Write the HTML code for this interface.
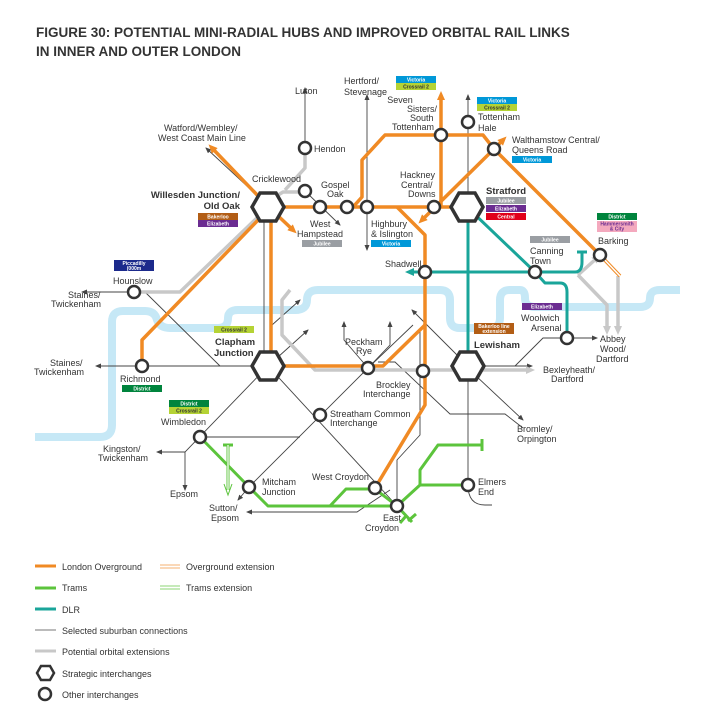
<!DOCTYPE html><html><head><meta charset="utf-8"><style>
body{margin:0;background:#fff}
svg{display:block;font-family:"Liberation Sans",sans-serif}
.t{font-size:9px;fill:#333}
.b{font-size:9.5px;font-weight:bold;fill:#333}
.bd{font-size:5px;fill:#fff;font-weight:bold;text-anchor:middle}
.o{stroke:#f08a24;stroke-width:3.5;fill:none;stroke-linejoin:round}
.g{stroke:#c8c8c8;stroke-width:3.5;fill:none;stroke-linejoin:round}
.tl{stroke:#1aa59a;stroke-width:3;fill:none;stroke-linejoin:round}
.gr{stroke:#5cc43c;stroke-width:3;fill:none;stroke-linejoin:round}
.k{stroke:#444;stroke-width:0.9;fill:none}
.r{stroke:#c6e8f6;stroke-width:8;fill:none;stroke-linejoin:round}
.c{fill:#fff;stroke:#333;stroke-width:2.5}
.h{fill:#fff;stroke:#333;stroke-width:3.5}
</style></head><body>
<svg width="715" height="721" viewBox="0 0 715 721">
<defs>
<marker id="ak" markerUnits="userSpaceOnUse" markerWidth="6" markerHeight="5" refX="5" refY="2.5" orient="auto"><path d="M0,0L6,2.5L0,5z" fill="#444"/></marker>
<marker id="ao" markerUnits="userSpaceOnUse" markerWidth="9" markerHeight="8" refX="4" refY="4" orient="auto"><path d="M0,0L9,4L0,8z" fill="#f08a24"/></marker>
<marker id="ag" markerUnits="userSpaceOnUse" markerWidth="9" markerHeight="8" refX="4" refY="4" orient="auto"><path d="M0,0L9,4L0,8z" fill="#c8c8c8"/></marker>
<marker id="at" markerUnits="userSpaceOnUse" markerWidth="9" markerHeight="8" refX="4" refY="4" orient="auto"><path d="M0,0L9,4L0,8z" fill="#1aa59a"/></marker>
</defs>
<text x="36" y="37" style="font-size:13.5px;font-weight:bold;fill:#333">FIGURE 30: POTENTIAL MINI-RADIAL HUBS AND IMPROVED ORBITAL RAIL LINKS</text>
<text x="36" y="56" style="font-size:13.5px;font-weight:bold;fill:#333">IN INNER AND OUTER LONDON</text>

<path class="r" d="M35,437H100Q112,437 112,425V322Q112,311 123,311H145Q155,311 157,320Q160,328 170,328H218Q228,328 228,318Q228,310 238,310H295Q307,310 307,300Q307,290 318,290H440Q450,290 450,300V318Q450,328 460,328H490Q500,328 500,318V300Q500,290 510,290H520Q525,290 525,298Q525,307 535,307H640Q650,307 650,298Q650,290 660,290H680"/>

<g class="k">
<path d="M305,148V88" marker-end="url(#ak)"/>
<path d="M367,207V95" marker-end="url(#ak)"/>
<path d="M367,207V250" marker-end="url(#ak)"/>
<path d="M468,207V95" marker-end="url(#ak)"/>
<path d="M305,191L340,225" marker-end="url(#ak)"/>
<path d="M262,200L206,148" marker-end="url(#ak)"/>
<path d="M264,207V366"/>
<path d="M134,292H82" marker-end="url(#ak)"/>
<path d="M134,292H145L220,366"/>
<path d="M268,366H96" marker-end="url(#ak)"/>
<path d="M268,366L308,330" marker-end="url(#ak)"/>
<path d="M272,345V325L300,300" marker-end="url(#ak)"/>
<path d="M268,366L185,452H157" marker-end="url(#ak)"/>
<path d="M185,452V490" marker-end="url(#ak)"/>
<path d="M268,366L397,506"/>
<path d="M200,437H300"/>
<path d="M249,487L368,368L413,325"/>
<path d="M249,487L238,500" marker-end="url(#ak)"/>
<path d="M390,490L357,512H247" marker-end="url(#ak)"/>
<path d="M368,368L344,340V322" marker-end="url(#ak)"/>
<path d="M368,368L390,345V322" marker-end="url(#ak)"/>
<path d="M468,366L412,310" marker-end="url(#ak)"/>
<path d="M468,366H532" marker-end="url(#ak)"/>
<path d="M515,366L543,338H567H597" marker-end="url(#ak)"/>
<path d="M475,375L523,420" marker-end="url(#ak)"/>
<path d="M378,362H395L450,414H505L523,428"/>
<path d="M420,330V435L397,460V506"/>
<path d="M468,366V485Q468,505 485,505H492"/>
</g>

<g class="g">
<path d="M305,148V168L285,190"/>
<path d="M270,200L283,192H305"/>
<path d="M260,215L180,292H134"/>
<path d="M268,366H300M290,290L282,300V335L315,370H530" marker-end="url(#ag)"/>
<path d="M578,275L597,258" marker-end="url(#ag)"/>
<path d="M578,275L607,305V330" marker-end="url(#ag)"/>
<path d="M618,276V330" marker-end="url(#ag)"/>
</g>

<g class="o">
<path d="M262,200L212,148" marker-end="url(#ao)"/>
<path d="M275,213L293,230" marker-end="url(#ao)"/>
<path d="M268,207H467"/>
<path d="M347,207H353L362,197V160L385,135H483L494,149L600,255"/>
<path d="M441,135V96" marker-end="url(#ao)"/>
<path d="M441,135V207"/>
<path d="M494,149L503,140" marker-end="url(#ao)"/>
<path d="M494,149L422,220" marker-end="url(#ao)"/>
<path d="M397,207L425,235V405L375,488"/>
<path d="M271,207V366H368H383L425,325"/>
<path d="M262,216L142,340V366"/>
</g>
<path d="M600,255L620,276" stroke="#f08a24" stroke-width="3.5" fill="none"/>
<path d="M600,255L620,276" stroke="#fff" stroke-width="1.5" fill="none"/>

<g class="tl">
<path d="M468,207V360"/>
<path d="M467,207L535,272"/>
<path d="M565,272H575Q582,272 582,262V252M577,252H587"/>
<path d="M575,272H410" marker-end="url(#at)"/>
<path d="M535,272L545,283H560Q567,283 567,292V338"/>
</g>

<g class="gr">
<path d="M200,437L249,487L268,506H397L412,522M406,516L400,523"/>
<path d="M330,506L346,489H375L397,506"/>
<path d="M397,506L420,485V470L438,445H482M482,439V451"/>
<path d="M420,485H468"/>
<path d="M408,521L416,514"/>
</g>
<path d="M223,445H233M228,445V490" stroke="#5cc43c" stroke-width="3" fill="none"/>
<path d="M228,445V490" stroke="#fff" stroke-width="1.2"/>
<path d="M224,484L228,495L232,484" stroke="#5cc43c" stroke-width="1" fill="none"/>

<g>
<circle class="c" cx="305" cy="148" r="6"/>
<circle class="c" cx="305" cy="191" r="6"/>
<circle class="c" cx="320" cy="207" r="6"/>
<circle class="c" cx="347" cy="207" r="6"/>
<circle class="c" cx="367" cy="207" r="6"/>
<circle class="c" cx="434" cy="207" r="6"/>
<circle class="c" cx="441" cy="135" r="6"/>
<circle class="c" cx="468" cy="122" r="6"/>
<circle class="c" cx="494" cy="149" r="6"/>
<circle class="c" cx="600" cy="255" r="6"/>
<circle class="c" cx="535" cy="272" r="6"/>
<circle class="c" cx="425" cy="272" r="6"/>
<circle class="c" cx="567" cy="338" r="6"/>
<circle class="c" cx="134" cy="292" r="6"/>
<circle class="c" cx="142" cy="366" r="6"/>
<circle class="c" cx="368" cy="368" r="6"/>
<circle class="c" cx="423" cy="371" r="6"/>
<circle class="c" cx="320" cy="415" r="6"/>
<circle class="c" cx="200" cy="437" r="6"/>
<circle class="c" cx="249" cy="487" r="6"/>
<circle class="c" cx="375" cy="488" r="6"/>
<circle class="c" cx="397" cy="506" r="6"/>
<circle class="c" cx="468" cy="485" r="6"/>
<path class="h" d="M252,207L260,193H276L284,207L276,221H260Z"/>
<path class="h" d="M252,366L260,352H276L284,366L276,380H260Z"/>
<path class="h" d="M451,207L459,193H475L483,207L475,221H459Z"/>
<path class="h" d="M452,366L460,352H476L484,366L476,380H460Z"/>
</g>

<g class="t">
<text x="295" y="94">Luton</text>
<text x="344" y="84">Hertford/</text><text x="344" y="95">Stevenage</text>
<text x="400" y="103" text-anchor="middle">Seven</text><text x="407" y="112">Sisters/</text><text x="410" y="121">South</text><text x="392" y="130">Tottenham</text>
<text x="478" y="120">Tottenham</text><text x="478" y="131">Hale</text>
<text x="512" y="143">Walthamstow Central/</text><text x="512" y="153">Queens Road</text>
<text x="164" y="131">Watford/Wembley/</text><text x="158" y="141">West Coast Main Line</text>
<text x="314" y="152">Hendon</text>
<text x="252" y="182">Cricklewood</text>
<text x="321" y="188">Gospel</text><text x="327" y="197">Oak</text>
<text x="310" y="227">West</text><text x="297" y="237">Hampstead</text>
<text x="400" y="178">Hackney</text><text x="401" y="188">Central/</text><text x="408" y="197">Downs</text>
<text x="371" y="227">Highbury</text><text x="371" y="237">&amp; Islington</text>
<text x="385" y="267">Shadwell</text>
<text x="530" y="254">Canning</text><text x="530" y="264">Town</text>
<text x="598" y="244">Barking</text>
<text x="521" y="321">Woolwich</text><text x="531" y="331">Arsenal</text>
<text x="600" y="342">Abbey</text><text x="600" y="352">Wood/</text><text x="596" y="362">Dartford</text>
<text x="543" y="373">Bexleyheath/</text><text x="551" y="382">Dartford</text>
<text x="517" y="432">Bromley/</text><text x="517" y="442">Orpington</text>
<text x="345" y="345">Peckham</text><text x="356" y="354">Rye</text>
<text x="376" y="388">Brockley</text><text x="363" y="397">Interchange</text>
<text x="330" y="417">Streatham Common</text><text x="330" y="426">Interchange</text>
<text x="312" y="480">West Croydon</text>
<text x="383" y="521">East</text><text x="365" y="531">Croydon</text>
<text x="478" y="485">Elmers</text><text x="478" y="495">End</text>
<text x="262" y="485">Mitcham</text><text x="262" y="495">Junction</text>
<text x="209" y="511">Sutton/</text><text x="211" y="521">Epsom</text>
<text x="170" y="497">Epsom</text>
<text x="103" y="452">Kingston/</text><text x="98" y="461">Twickenham</text>
<text x="161" y="425">Wimbledon</text>
<text x="120" y="382">Richmond</text>
<text x="50" y="366">Staines/</text><text x="34" y="375">Twickenham</text>
<text x="68" y="298">Staines/</text><text x="51" y="307">Twickenham</text>
<text x="113" y="284">Hounslow</text>
</g>
<g class="b">
<text x="240" y="198" text-anchor="end">Willesden Junction/</text>
<text x="240" y="209" text-anchor="end">Old Oak</text>
<text x="215" y="345">Clapham</text><text x="214" y="356">Junction</text>
<text x="486" y="194">Stratford</text>
<text x="474" y="348">Lewisham</text>
</g>

<g>
<rect x="198" y="213" width="40" height="7" fill="#b25d15"/><text class="bd" x="218" y="218.5">Bakerloo</text>
<rect x="198" y="220" width="40" height="7" fill="#6b2c91"/><text class="bd" x="218" y="225.5">Elizabeth</text>
<rect x="302" y="240" width="40" height="7" fill="#9a9ea3"/><text class="bd" x="322" y="245.5">Jubilee</text>
<rect x="371" y="240" width="40" height="7" fill="#0098d8"/><text class="bd" x="391" y="245.5">Victoria</text>
<rect x="396" y="76" width="40" height="7" fill="#0098d8"/><text class="bd" x="416" y="81.5">Victoria</text>
<rect x="396" y="83" width="40" height="7" fill="#b5d335"/><text class="bd" x="416" y="88.5" style="fill:#333">Crossrail 2</text>
<rect x="477" y="97" width="40" height="7" fill="#0098d8"/><text class="bd" x="497" y="102.5">Victoria</text>
<rect x="477" y="104" width="40" height="7" fill="#b5d335"/><text class="bd" x="497" y="109.5" style="fill:#333">Crossrail 2</text>
<rect x="512" y="156" width="40" height="7" fill="#0098d8"/><text class="bd" x="532" y="161.5">Victoria</text>
<rect x="486" y="197" width="40" height="7" fill="#9a9ea3"/><text class="bd" x="506" y="202.5">Jubilee</text>
<rect x="486" y="205" width="40" height="7" fill="#6b2c91"/><text class="bd" x="506" y="210.5">Elizabeth</text>
<rect x="486" y="213" width="40" height="7" fill="#e1001a"/><text class="bd" x="506" y="218.5">Central</text>
<rect x="530" y="236" width="40" height="7" fill="#9a9ea3"/><text class="bd" x="550" y="241.5">Jubilee</text>
<rect x="597" y="213" width="40" height="7" fill="#00843d"/><text class="bd" x="617" y="218.5">District</text>
<rect x="597" y="221" width="40" height="11" fill="#f4a9be"/><text class="bd" x="617" y="225.5" style="fill:#6b2c91">Hammersmith</text><text class="bd" x="617" y="230.5" style="fill:#6b2c91">&amp; City</text>
<rect x="522" y="303" width="40" height="7" fill="#6b2c91"/><text class="bd" x="542" y="308.5">Elizabeth</text>
<rect x="474" y="323" width="40" height="11" fill="#b25d15"/><text class="bd" x="494" y="328">Bakerloo line</text><text class="bd" x="494" y="333">extension</text>
<rect x="114" y="260" width="40" height="11" fill="#1c2a8c"/><text class="bd" x="134" y="265">Piccadilly</text><text class="bd" x="134" y="270">(000m</text>
<rect x="214" y="326" width="40" height="7" fill="#b5d335"/><text class="bd" x="234" y="331.5" style="fill:#333">Crossrail 2</text>
<rect x="122" y="385" width="40" height="7" fill="#00843d"/><text class="bd" x="142" y="390.5">District</text>
<rect x="169" y="400" width="40" height="7" fill="#00843d"/><text class="bd" x="189" y="405.5">District</text>
<rect x="169" y="407" width="40" height="7" fill="#b5d335"/><text class="bd" x="189" y="412.5" style="fill:#333">Crossrail 2</text>
</g>

<g class="t">
<path d="M35,566H56" stroke="#f08a24" stroke-width="3"/><text x="62" y="570">London Overground</text>
<path d="M160,565H180M160,568H180" stroke="#f5b070" stroke-width="1"/><text x="186" y="570">Overground extension</text>
<path d="M35,588H56" stroke="#5cc43c" stroke-width="3"/><text x="62" y="591">Trams</text>
<path d="M160,586H180M160,589H180" stroke="#8ed676" stroke-width="1"/><text x="186" y="591">Trams extension</text>
<path d="M35,609H56" stroke="#1aa59a" stroke-width="3"/><text x="62" y="613">DLR</text>
<path d="M35,630H56" stroke="#777" stroke-width="1"/><text x="62" y="634">Selected suburban connections</text>
<path d="M35,651H56" stroke="#c8c8c8" stroke-width="3"/><text x="62" y="655">Potential orbital extensions</text>
<path class="h" d="M37,673L41,666H50L54,673L50,680H41Z" style="stroke-width:2.5"/><text x="62" y="677">Strategic interchanges</text>
<circle class="c" cx="45" cy="694" r="6"/><text x="62" y="698">Other interchanges</text>
</g>
</svg>
</body></html>
